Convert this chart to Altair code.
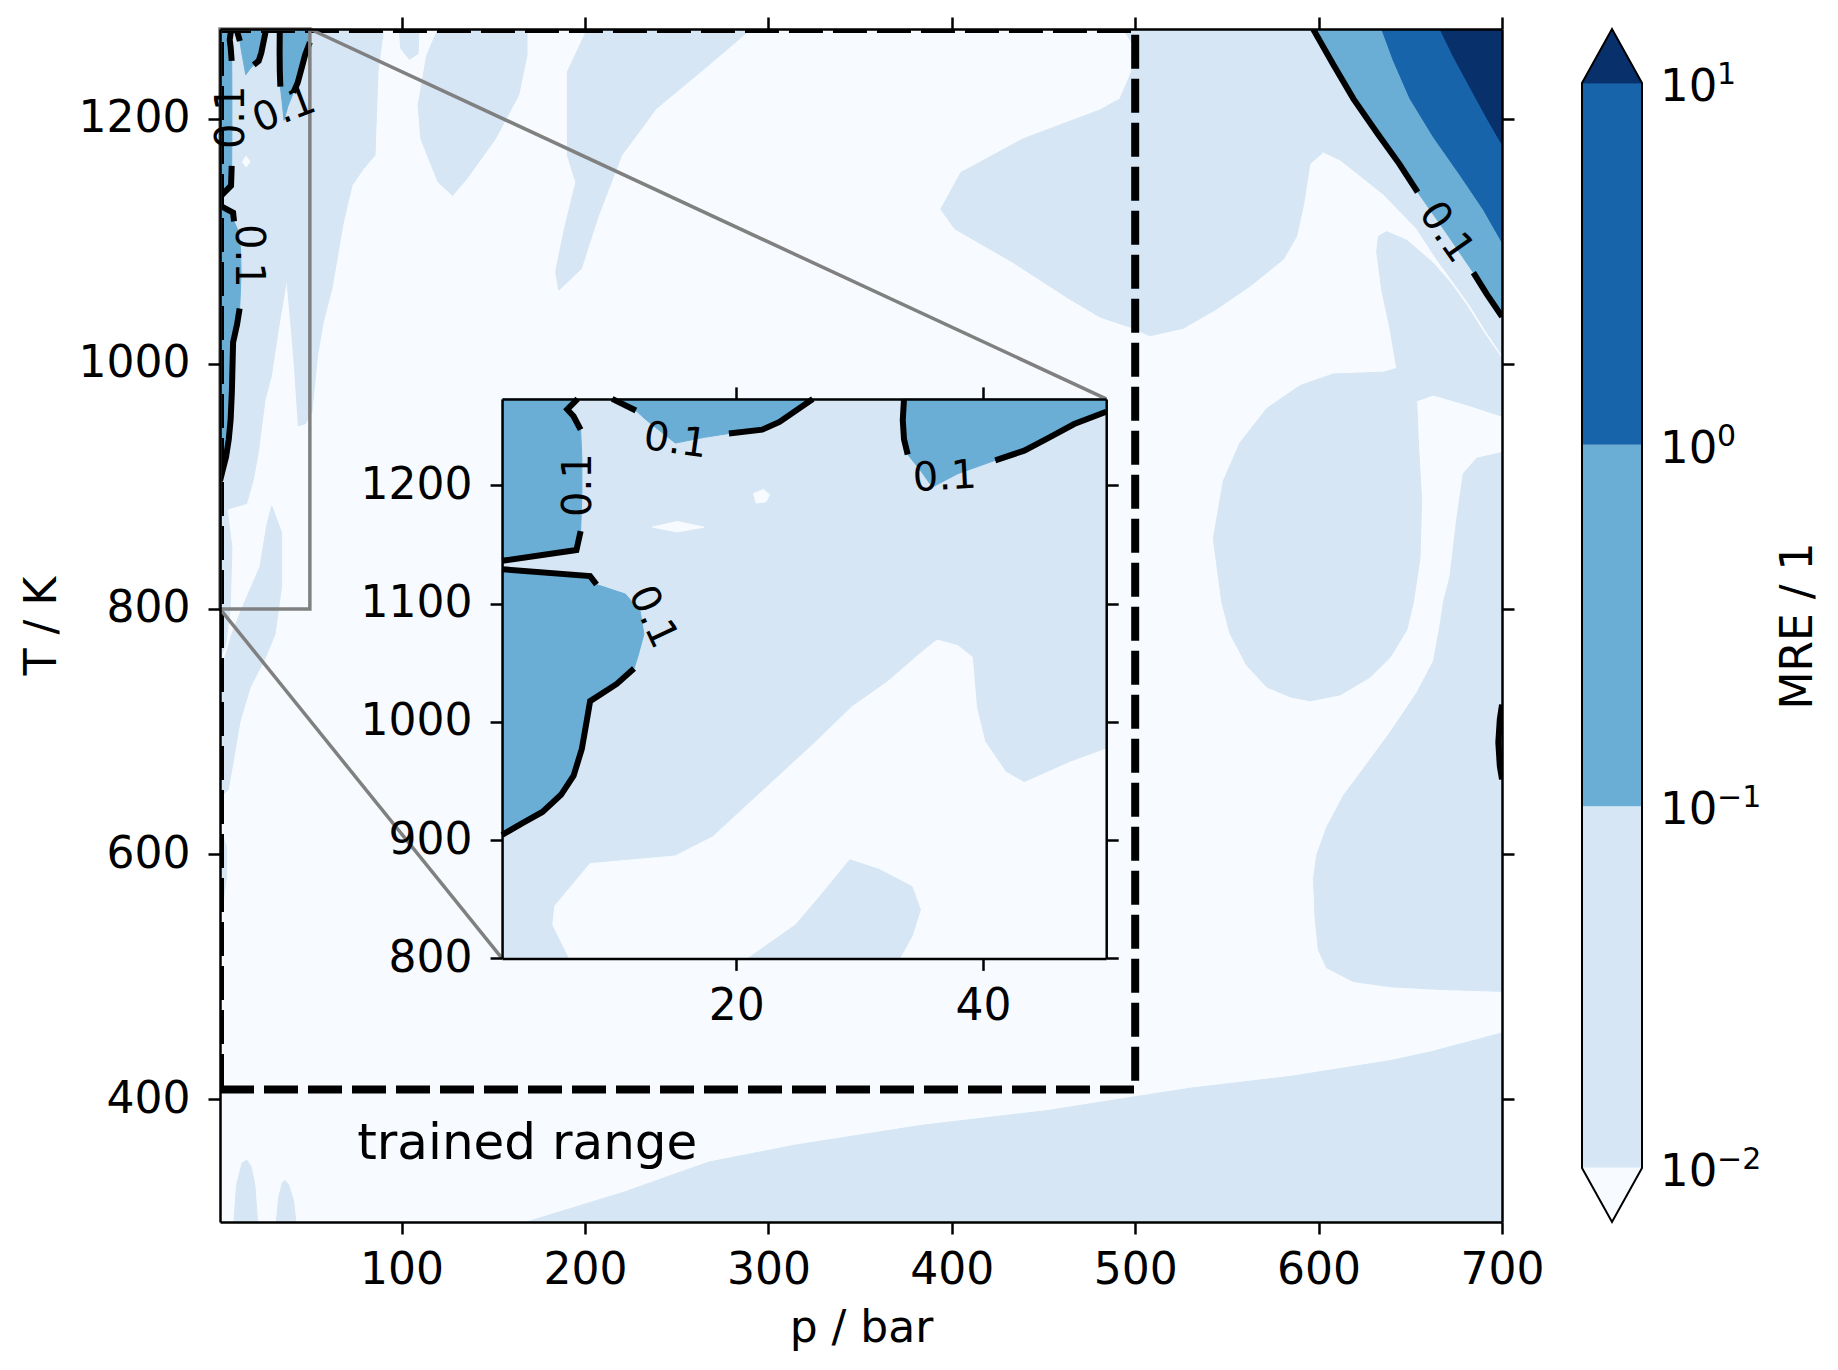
import altair as alt
import pandas as pd

FONT = "DejaVu Sans"
# contourf level colours (Blues): <0.01, 0.01-0.1, 0.1-1, 1-10, >10
C0, C1, C2, C3, C4 = "#f7fbff", "#d6e6f4", "#6aaed6", "#1764ab", "#08306b"

# ---------------- axes / layout values ----------------
P_DOMAIN = [1, 700]
T_DOMAIN = [300, 1273]
P_TICKS = [100, 200, 300, 400, 500, 600, 700]
T_TICKS = [400, 600, 800, 1000, 1200]
INSET_P_DOMAIN = [1, 50]
INSET_T_DOMAIN = [800, 1273]
INSET_P_TICKS = [20, 40]
INSET_T_TICKS = [800, 900, 1000, 1100, 1200]
INSET_BOX_P = [154.8, 484.2]     # where the inset sits, in main-plot data units
INSET_BOX_T = [515.0, 971.3]
TRAINED_P = [1, 500]
TRAINED_T = [408, 1273]
ZOOM_P = [1, 50]
ZOOM_T = [800, 1273]
CB_LEVELS = [0.01, 0.1, 1.0, 10.0]
CB_BASE = ["10", "10", "10", "10"]
CB_EXP = ["−2", "−1", "0", "1"]
W, H = 1282, 1193

# ---------------- main plot: regions 0.01 < MRE < 0.1 ----------------
MAIN_L1_LEFT = [(1, 1273), (90.2, 1273), (87.1, 1237.9), (85.5, 1170), (79.2, 1159), (73, 1145.5),
                (68.3, 1115.6), (62, 1061.2), (57.3, 1034), (54.2, 1006.8), (51.1, 960.6), (47.5, 951),
                (43.7, 949.5), (41.5, 1000), (39.5, 1035), (37.4, 1069), (33, 1030), (29, 990),
                (25.5, 970), (21.9, 928), (19.2, 905.7), (15.5, 886), (6.4, 882), (1, 878)]
MAIN_L1_LOBE = [(29.2, 884), (34.6, 862.3), (34.6, 818.8), (31, 779.3), (25.5, 759.5), (17.4, 735.8),
                (11.9, 708.1), (8.3, 676.5), (5.5, 652.8), (2.8, 648.8), (1.5, 662), (2.8, 755.6),
                (7.4, 779.3), (13.7, 803), (22.8, 834.6), (26.5, 868)]
MAIN_L1_EDGE = [(1, 880), (5, 880), (7.5, 850), (6.5, 800), (4, 770), (1, 760)]
MAIN_L1_SMALL = [(1, 621), (4.6, 606), (4.6, 582), (2.8, 562), (1, 560)]
MAIN_L1_R2 = [(98.7, 1273), (99.6, 1257), (104.3, 1248.3), (109, 1252.9), (109.5, 1273)]
MAIN_L1_R3 = [(119.9, 1273), (113.7, 1251.5), (109, 1210.7), (110.5, 1183.5), (119.9, 1148.2),
              (127.8, 1137.3), (135.6, 1150.9), (151.2, 1183.5), (163.8, 1218.9), (168.4, 1251.5),
              (168.4, 1273)]
MAIN_L1_R4 = [(201.3, 1273), (190.4, 1238), (190.4, 1170), (195, 1148), (188.8, 1110), (184, 1075),
              (185.7, 1060), (198, 1077.5), (207.4, 1121), (220, 1170), (238.8, 1208), (267, 1243),
              (290.5, 1273)]
MAIN_L1_A = [(493.5, 1273), (499, 1260), (498, 1238), (491.7, 1216), (480.8, 1207), (439, 1183.5),
             (405, 1156), (394, 1126), (401.6, 1110), (433, 1083), (464, 1053), (481, 1038),
             (499, 1029), (508, 1022.8), (526.2, 1029), (544.4, 1044.6), (562.6, 1063.3),
             (580.8, 1085.2), (588, 1103.9), (591.7, 1128.9), (595.3, 1163.2), (602.6, 1172.6),
             (611.7, 1166.3), (635.3, 1138.3), (653.5, 1110.2), (664.4, 1085.2), (673.5, 1066.5),
             (682.5, 1047.7), (691.6, 1025.9), (700, 1007), (700, 1273)]
MAIN_L1_BC = [(632.6, 1103.9), (637.1, 1107.7), (648, 1100.8), (662.5, 1082.1), (671.6, 1066.5),
              (680.7, 1047.7), (689.8, 1025.9), (700, 1004), (700, 957.2), (680.7, 966.6),
              (662.5, 974.4), (653.5, 969.7), (654.4, 935.4), (656.2, 888.6), (655.3, 841.7),
              (651.7, 805.7), (648.1, 783.1), (639, 760.5), (628.1, 744.4), (611.7, 729.9),
              (595.4, 725.1), (584.5, 728.3), (571.7, 736.4), (560.8, 754.1), (551.7, 779.9),
              (547.2, 805.7), (542.6, 857.4), (548, 904.2), (557.1, 935.4), (571.7, 963.5),
              (589.9, 982.2), (608, 991.6), (635.3, 993.1), (642.6, 996.2), (638.9, 1029),
              (634.4, 1060.2), (631.7, 1091.4)]
MAIN_L1_D = [(700, 927.6), (686.2, 922.9), (678.9, 910.4), (675.3, 873), (671.6, 826.1), (668.1, 805.7),
             (666.2, 786.4), (662.6, 757.3), (653.5, 731.5), (639, 699.3), (626.3, 673.5),
             (613.5, 647.7), (604.4, 621.9), (599, 599.3), (597.2, 580), (598.1, 547.7),
             (599.9, 521.9), (604.4, 507.4), (619, 496.1), (639, 491.9), (666.2, 489.7), (700, 488.1)]
MAIN_L1_E = [(168, 300), (190, 310), (221.4, 324.4), (245, 337), (267.6, 348.9), (313.9, 362.5),
             (383.3, 378.8), (452.6, 391), (498.9, 401.9), (529.9, 409.1), (584.5, 418.7),
             (639, 431.6), (660.8, 438.6), (700, 454.2), (700, 300)]
MAIN_L1_SPIKE1 = [(8.6, 300), (10, 330), (13, 348), (15.5, 350.5), (18, 345), (20, 330), (21.5, 300)]
MAIN_L1_SPIKE2 = [(31.7, 300), (33, 320), (35, 332), (36.4, 334), (38.5, 330), (41, 318), (42.4, 300)]

# ---------------- main plot: high-error corner ----------------
MAIN_L2_CORNER = [(597, 1273), (608, 1244), (619, 1216), (632, 1188), (644, 1163), (654, 1140),
                  (669, 1108), (684.4, 1074.3), (691.6, 1057), (700, 1038.4), (700, 1273)]
MAIN_L2_LENS = [(700, 661), (698.8, 672), (698, 691), (698.8, 710), (700, 722)]
MAIN_L3 = [(634.4, 1273), (640.7, 1247.5), (649.8, 1216.3), (662.5, 1185.1), (677.1, 1153.9),
           (689.8, 1125.8), (700, 1099), (700, 1273)]
MAIN_L4 = [(666.2, 1273), (673.5, 1250.6), (682.5, 1225.6), (691.6, 1200.7), (700, 1178.8), (700, 1273)]
MAIN_LINE_1 = [(597, 1273), (608, 1244), (619, 1216), (632, 1188), (644, 1163), (654, 1140)]
MAIN_LINE_2 = [(684.4, 1074.3), (691.6, 1057), (700, 1038.4)]
MAIN_LABELS = [("0.1", 669.5, 1107, 55), ("0.1", 36.1, 1206.7, 339),
               ("0.1", 7.6, 1201, 270), ("0.1", 16.5, 1088, 90)]

# ---------------- zoomed region (1-50 bar, 800-1273 K) ----------------
ZOOM_L2_TL = [(1, 1273), (7.13, 1273), (6.29, 1264.1), (6.8, 1258.3), (7.37, 1247), (7.47, 1222.7),
              (7.47, 1190.4), (7.37, 1161.3), (7.03, 1145.2), (1, 1136.1)]
ZOOM_L2_ML = [(1, 1129), (8.14, 1123.2), (8.66, 1116.1), (11.0, 1108), (12.2, 1093.4), (12.5, 1074.1),
              (12.0, 1054.7), (11.7, 1045), (10.3, 1032), (8.14, 1017.5), (7.9, 1002.9), (7.47, 977.1),
              (6.8, 954.4), (5.78, 938.3), (4.27, 923.8), (2.58, 914), (1, 904.3)]
ZOOM_L2_TM = [(9.93, 1273), (11.85, 1263.2), (12.7, 1255.1), (15.05, 1235.7), (17.4, 1240.5),
              (19.4, 1243.8), (22.1, 1247), (23.5, 1253.5), (26.2, 1273)]
ZOOM_L2_TR = [(33.6, 1273), (33.5, 1255.1), (33.6, 1238.9), (33.9, 1226), (34.9, 1213.1),
              (35.9, 1198.5), (37.96, 1209.8), (41, 1221.1), (43.35, 1229.2), (45.4, 1240.5),
              (47.4, 1251.8), (50, 1262.2), (50, 1273)]
ZOOM_LINES = [
    [(7.13, 1273), (6.29, 1264.1), (6.8, 1258.3), (7.37, 1247)],
    [(7.37, 1161.3), (7.03, 1145.2), (1, 1136.1)],
    [(1, 1129), (8.14, 1123.2), (8.66, 1116.1)],
    [(11.7, 1045), (10.3, 1032), (8.14, 1017.5), (7.9, 1002.9), (7.47, 977.1), (6.8, 954.4),
     (5.78, 938.3), (4.27, 923.8), (2.58, 914), (1, 904.3)],
    [(9.93, 1273), (11.85, 1263.2)],
    [(19.4, 1243.8), (22.1, 1247), (23.5, 1253.5), (26.2, 1273)],
    [(33.6, 1273), (33.5, 1255.1), (33.6, 1238.9), (33.9, 1226)],
    [(41, 1221.1), (43.35, 1229.2), (45.4, 1240.5), (47.4, 1251.8), (50, 1262.2)],
]
ZOOM_L0_LOW = [(6.46, 800), (5.11, 828.4), (5.28, 844.5), (8.14, 880.1), (15.05, 886.6), (18.08, 902.7),
               (20.78, 928.6), (23.47, 954.4), (26.17, 980.3), (29.37, 1012.6), (32.23, 1033.6),
               (34.93, 1057.9), (36.28, 1069.2), (37.96, 1064.4), (39.14, 1054.7), (39.48, 1012.6),
               (40.15, 983.5), (41.84, 957.7), (43.35, 948.6), (47.06, 965.8), (50, 977.1), (50, 800)]
ZOOM_L0_SPOT = [(21.4, 1193), (22.2, 1196.5), (22.7, 1192), (22.4, 1186), (21.6, 1185)]
ZOOM_L0_DIAMOND = [(13.2, 1164.6), (15.2, 1169.4), (17.4, 1164.6), (15.2, 1160.5)]
ZOOM_L1_BLOB = [(20.95, 800), (24.82, 828.4), (27.18, 857.5), (29.2, 883.3), (31.56, 875.3),
                (34.25, 860.7), (34.93, 841.3), (34.25, 818.7), (33.24, 800)]
ZOOM_LABELS = [("0.1", 15.05, 1237.3, 8), ("0.1", 36.9, 1206.6, 357),
               ("0.1", 7.2, 1200.1, 270), ("0.1", 13.2, 1088.6, 65)]


# ---------------- helpers ----------------
def frame(polys):
    rows = []
    for k, pts in enumerate(polys):
        for i, (p, t) in enumerate(pts):
            rows.append({"poly": k, "idx": i, "p": p, "T": t})
    return pd.DataFrame(rows)


def axis(orient, values, labels=True, title=None, offset=0.0, pad=16):
    kw = dict(orient=orient, values=values, format="d", tickSize=12, tickWidth=2.5, tickColor="black",
              domainColor="black", domainWidth=2.5, grid=False, labels=labels, labelFont=FONT,
              labelFontSize=44, labelColor="black", labelPadding=pad, labelFlush=False,
              labelOverlap=False, zindex=1, offset=offset)
    if title:
        kw.update(title=title, titleFont=FONT, titleFontSize=44, titleFontWeight="normal",
                  titleColor="black", titlePadding=14)
    else:
        kw["title"] = None
    return alt.Axis(**kw)


def enc(pdom, tdom, ax, ay, prange=None, trange=None):
    xs = dict(domain=pdom, nice=False, zero=False)
    ys = dict(domain=tdom, nice=False, zero=False)
    if prange is not None:
        xs["range"] = prange
        ys["range"] = trange
    return {"x": alt.X("p:Q", scale=alt.Scale(**xs), axis=ax),
            "y": alt.Y("T:Q", scale=alt.Scale(**ys), axis=ay)}


def fills(polys, color, e, clip=True):
    return alt.Chart(frame(polys)).mark_line(
        interpolate="linear-closed", fill=color, stroke=color, strokeWidth=1, clip=clip
    ).encode(detail="poly:N", order="idx:Q", **e)


def lines(polys, e, color="black", width=6.0, dash=None, clip=False):
    kw = dict(stroke=color, strokeWidth=width, clip=clip, strokeCap="butt", strokeJoin="miter")
    if dash:
        kw["strokeDash"] = dash
    return alt.Chart(frame(polys)).mark_line(**kw).encode(detail="poly:N", order="idx:Q", **e)


def labels(items, e, size=40, align="center"):
    df = pd.DataFrame(items, columns=["s", "p", "T", "ang"])
    return alt.Chart(df).mark_text(font=FONT, fontSize=size, color="black", align=align,
                                   baseline="middle").encode(
        text="s:N", angle=alt.Angle("ang:Q", scale=None), **e)


def px(p):
    return (p - P_DOMAIN[0]) / (P_DOMAIN[1] - P_DOMAIN[0]) * W


def py(t):
    return H - (t - T_DOMAIN[0]) / (T_DOMAIN[1] - T_DOMAIN[0]) * H


# ---------------- main plot ----------------
e_main = enc(P_DOMAIN, T_DOMAIN,
             axis("bottom", P_TICKS, title="p / bar", pad=14),
             axis("left", T_TICKS, title="T / K", pad=18))
e_main2 = enc(P_DOMAIN, T_DOMAIN, axis("top", P_TICKS, labels=False),
              axis("right", T_TICKS, labels=False))

main_l1 = [MAIN_L1_LEFT, MAIN_L1_LOBE, MAIN_L1_EDGE, MAIN_L1_SMALL, MAIN_L1_R2, MAIN_L1_R3,
           MAIN_L1_R4, MAIN_L1_A, MAIN_L1_BC, MAIN_L1_D, MAIN_L1_E, MAIN_L1_SPIKE1, MAIN_L1_SPIKE2]
zoom_l2 = [ZOOM_L2_TL, ZOOM_L2_ML, ZOOM_L2_TM, ZOOM_L2_TR]

main_fill = alt.layer(
    fills(main_l1, C1, e_main),
    fills([ZOOM_L0_DIAMOND], C0, e_main),
    fills(zoom_l2 + [MAIN_L2_CORNER, MAIN_L2_LENS], C2, e_main),
    fills([MAIN_L3], C3, e_main),
    fills([MAIN_L4], C4, e_main),
)

trained = [[(TRAINED_P[0], TRAINED_T[0]), (TRAINED_P[1], TRAINED_T[0]), (TRAINED_P[1], TRAINED_T[1]),
            (TRAINED_P[0], TRAINED_T[1]), (TRAINED_P[0], TRAINED_T[0])]]
zoom_rect = [[(ZOOM_P[0], ZOOM_T[0]), (ZOOM_P[1], ZOOM_T[0]), (ZOOM_P[1], ZOOM_T[1]),
              (ZOOM_P[0], ZOOM_T[1]), (ZOOM_P[0], ZOOM_T[0])]]
connectors = [[(ZOOM_P[1], ZOOM_T[1]), (INSET_BOX_P[1], INSET_BOX_T[1])],
              [(ZOOM_P[0], ZOOM_T[0]), (INSET_BOX_P[0], INSET_BOX_T[0])]]

main_over = alt.layer(
    lines(ZOOM_LINES, e_main2, clip=True),
    lines([MAIN_LINE_1, MAIN_LINE_2, MAIN_L2_LENS], e_main2, clip=True),
    lines(trained, e_main2, width=8, dash=[34, 10], clip=True),
    lines(zoom_rect, e_main2, color="#808080", width=3.5),
    lines(connectors, e_main2, color="#808080", width=3.5),
    labels(MAIN_LABELS, e_main2),
    labels([("trained range", 75.8, 363.6, 0)], e_main2, size=50, align="left"),
)

# ---------------- inset ----------------
ix = [px(INSET_BOX_P[0]), px(INSET_BOX_P[1])]
iy = [py(INSET_BOX_T[0]), py(INSET_BOX_T[1])]
e_in = enc(INSET_P_DOMAIN, INSET_T_DOMAIN,
           axis("bottom", INSET_P_TICKS, offset=iy[0] - H, pad=14),
           axis("left", INSET_T_TICKS, offset=-ix[0], pad=18), ix, iy)
e_in2 = enc(INSET_P_DOMAIN, INSET_T_DOMAIN,
            axis("top", INSET_P_TICKS, labels=False, offset=-iy[1]),
            axis("right", INSET_T_TICKS, labels=False, offset=ix[1] - W), ix, iy)

inset_bg = [[(INSET_P_DOMAIN[0], INSET_T_DOMAIN[0]), (INSET_P_DOMAIN[1], INSET_T_DOMAIN[0]),
             (INSET_P_DOMAIN[1], INSET_T_DOMAIN[1]), (INSET_P_DOMAIN[0], INSET_T_DOMAIN[1])]]
inset_fill = alt.layer(
    fills(inset_bg, C1, e_in, clip=False),
    fills([ZOOM_L0_LOW, ZOOM_L0_SPOT, ZOOM_L0_DIAMOND], C0, e_in, clip=False),
    fills([ZOOM_L1_BLOB], C1, e_in, clip=False),
    fills(zoom_l2, C2, e_in, clip=False),
)
inset_over = alt.layer(
    lines(ZOOM_LINES, e_in2),
    labels(ZOOM_LABELS, e_in2),
)

main = alt.layer(main_fill, main_over, inset_fill, inset_over).resolve_scale(
    x="independent", y="independent"
).properties(width=W, height=H, view=alt.ViewBackground(fill=C0, strokeOpacity=0))

# ---------------- colour bar ----------------
EXT = 10 ** 0.149
cb_lo, cb_hi = CB_LEVELS[0] / EXT, CB_LEVELS[-1] * EXT
cb_rects = pd.DataFrame({"x": 0, "x2": 1, "v": CB_LEVELS[:-1], "v2": CB_LEVELS[1:], "c": [C1, C2, C3]})
cb_y = alt.Y("v:Q", scale=alt.Scale(type="log", domain=[cb_lo, cb_hi], nice=False),
             axis=alt.Axis(orient="right", values=CB_LEVELS, labels=False, ticks=False,
                           domain=False, grid=False, title="MRE / 1", titleFont=FONT,
                           titleFontSize=44, titleFontWeight="normal", titleColor="black",
                           titleAngle=270, titleBaseline="top", titlePadding=134))
cb_x = alt.X("x:Q", scale=alt.Scale(domain=[0, 1], nice=False, zero=False), axis=None)


def cb_poly(pts):
    return pd.DataFrame([{"idx": i, "x": a, "v": b} for i, (a, b) in enumerate(pts)])


tri_top = cb_poly([(0, CB_LEVELS[-1]), (1, CB_LEVELS[-1]), (0.5, cb_hi)])
tri_bot = cb_poly([(0, CB_LEVELS[0]), (1, CB_LEVELS[0]), (0.5, cb_lo)])
outline = cb_poly([(0, CB_LEVELS[0]), (0, CB_LEVELS[-1]), (0.5, cb_hi), (1, CB_LEVELS[-1]),
                   (1, CB_LEVELS[0]), (0.5, cb_lo)])
cb_text = pd.DataFrame({"x": 1, "v": CB_LEVELS, "base": CB_BASE, "exp": CB_EXP})

cbar = alt.layer(
    alt.Chart(cb_rects).mark_rect().encode(x=cb_x, x2="x2:Q", y=cb_y, y2="v2:Q",
                                           color=alt.Color("c:N", scale=None)),
    alt.Chart(tri_top).mark_line(interpolate="linear-closed", fill=C4, stroke=C4, strokeWidth=1)
    .encode(x=cb_x, y=cb_y, order="idx:Q"),
    alt.Chart(tri_bot).mark_line(interpolate="linear-closed", fill=C0, stroke=C0, strokeWidth=1)
    .encode(x=cb_x, y=cb_y, order="idx:Q"),
    alt.Chart(outline).mark_line(interpolate="linear-closed", stroke="black", strokeWidth=2)
    .encode(x=cb_x, y=cb_y, order="idx:Q"),
    alt.Chart(cb_text).mark_text(font=FONT, fontSize=45, align="left", baseline="alphabetic",
                                 dx=18, dy=18, color="black")
    .encode(x=cb_x, y=cb_y, text="base:N"),
    alt.Chart(cb_text).mark_text(font=FONT, fontSize=30, align="left", baseline="alphabetic",
                                 dx=75, dy=1, color="black")
    .encode(x=cb_x, y=cb_y, text="exp:N"),
).properties(width=60, height=H)

chart = alt.hconcat(main, cbar, spacing=80, bounds="flush").properties(
    padding={"left": 20, "top": 15, "right": 5, "bottom": 5}
).configure_view(strokeOpacity=0)

chart.save("out.html", embed_options={"renderer": "svg", "actions": False})
